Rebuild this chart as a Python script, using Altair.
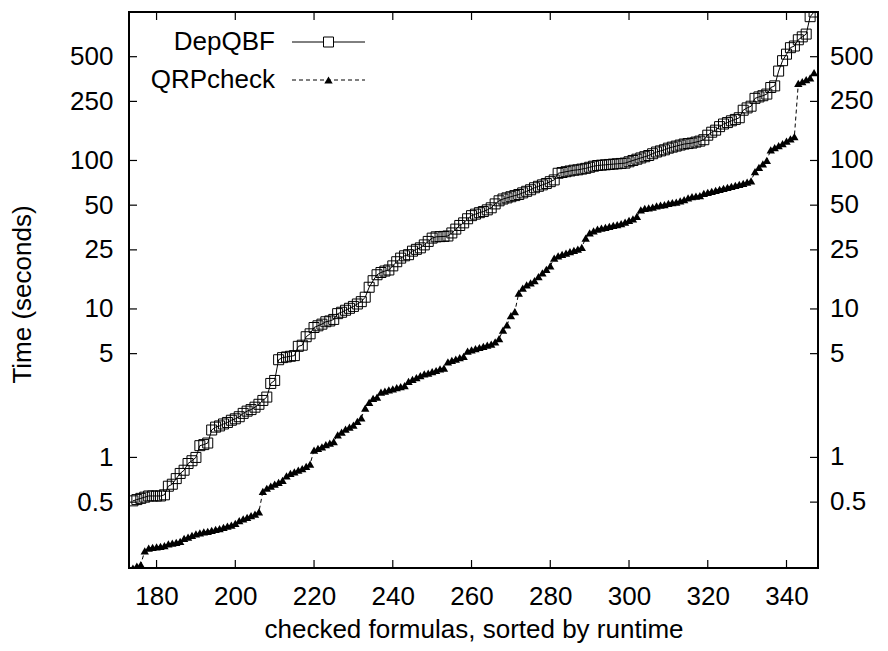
import altair as alt
import pandas as pd

# ---------------- data ----------------
formulas = list(range(174, 348))

depqbf = [
    0.51, 0.52, 0.53, 0.54, 0.55, 0.55, 0.55, 0.55, 0.56, 0.64,
    0.66, 0.72, 0.78, 0.82, 0.91, 0.95, 1.0, 1.2, 1.22, 1.25,
    1.53, 1.6, 1.63, 1.68, 1.72, 1.78, 1.82, 1.88, 1.98, 2.05,
    2.1, 2.18, 2.28, 2.42, 2.55, 3.15, 3.3, 4.55, 4.7, 4.75,
    4.8, 4.85, 5.6, 5.7, 6.5, 6.8, 7.5, 7.7, 7.9, 8.2,
    8.3, 8.5, 9.3, 9.5, 9.8, 10.1, 10.4, 10.8, 11.2, 12.0,
    14.0, 15.5, 17.0, 17.6, 18.0, 18.3, 19.5, 20.8, 22.0, 22.8,
    23.2, 24.5, 25.2, 25.8, 27.0, 28.5, 30.0, 30.6, 30.7, 30.8,
    31.0, 32.5, 34.5, 36.5, 38.0, 40.5, 42.5, 43.5, 44.5, 45.3,
    46.5, 48.0, 51.0, 53.5, 55.0, 56.0, 57.0, 58.0, 59.0, 60.5,
    62.0, 63.5, 65.5, 67.0, 68.5, 70.0, 72.0, 74.0, 82.0, 83.0,
    84.0, 85.0, 86.0, 86.5, 87.5, 88.5, 90.0, 91.5, 92.5, 93.0,
    93.5, 94.0, 94.5, 95.0, 95.5, 96.0, 98.0, 100.0, 102.0, 104.0,
    106.0, 108.0, 111.0, 114.0, 116.0, 118.0, 121.0, 123.0, 125.0, 127.0,
    129.0, 130.0, 131.0, 133.0, 135.0, 138.0, 148.0, 155.0, 160.0, 169.0,
    176.0, 180.0, 185.0, 189.0, 194.0, 218.0, 226.0, 232.0, 262.0, 268.0,
    273.0, 280.0, 310.0, 318.0, 400.0, 470.0, 520.0, 575.0, 590.0, 650.0,
    680.0, 710.0, 930.0, 1000.0,
]

qrpcheck = [
    0.18, 0.185, 0.19, 0.235, 0.245, 0.248, 0.25, 0.252, 0.255, 0.262,
    0.265, 0.268, 0.272, 0.285, 0.29, 0.298, 0.305, 0.31, 0.315, 0.318,
    0.322, 0.328, 0.332, 0.338, 0.345, 0.35, 0.36, 0.375, 0.385, 0.395,
    0.405, 0.415, 0.43, 0.59, 0.62, 0.64, 0.66, 0.68, 0.70, 0.75,
    0.78, 0.8, 0.82, 0.84, 0.87, 0.9, 1.12, 1.15, 1.18, 1.22,
    1.25, 1.28, 1.42, 1.48, 1.55, 1.6, 1.65, 1.75, 1.85, 2.15,
    2.35, 2.5, 2.55, 2.75, 2.8, 2.85, 2.9, 2.95, 3.0, 3.05,
    3.25, 3.35, 3.45, 3.55, 3.65, 3.7, 3.78, 3.85, 3.95, 4.0,
    4.4, 4.5, 4.6, 4.7, 4.8, 5.2, 5.3, 5.4, 5.5, 5.6,
    5.7, 5.8, 6.0, 6.3, 7.2, 7.8, 9.0, 9.6, 12.8, 13.8,
    14.5, 15.0, 15.5, 16.5, 17.5, 18.5, 19.5, 22.0, 22.8, 23.3,
    23.8, 24.3, 24.8, 25.3, 26.0, 30.0, 32.5, 33.5, 34.5, 35.0,
    35.5, 36.0, 36.5, 37.0, 37.5, 38.5, 39.5, 40.5, 42.0, 46.5,
    47.5, 48.0, 48.5, 49.5, 50.0, 50.5, 51.5, 52.0, 52.5, 53.5,
    54.5, 56.0, 57.0, 57.5, 58.0, 60.0, 61.0, 62.0, 63.0, 64.0,
    65.0, 66.0, 67.0, 68.0, 69.0, 70.0, 71.5, 73.0, 84.0, 90.0,
    95.0, 100.0, 118.0, 122.0, 126.0, 130.0, 135.0, 140.0, 145.0, 330.0,
    340.0, 350.0, 360.0, 390.0,
]

series_names = ["DepQBF", "QRPcheck"]
x_ticks = [180, 200, 220, 240, 260, 280, 300, 320, 340]
y_ticks = [0.5, 1, 5, 10, 25, 50, 100, 250, 500]
y_tick_labels = ["0.5", "1", "5", "10", "25", "50", "100", "250", "500"]

assert len(depqbf) == len(formulas) and len(qrpcheck) == len(formulas)

# ---------------- layout / style ----------------
W, H = 689, 556
FONT = "Liberation Sans"
FS = 26
TICK = 8

df_dep = pd.DataFrame({"x": formulas, "t": depqbf})
df_qrp = pd.DataFrame({"x": formulas, "t": qrpcheck})
df_xt = pd.DataFrame({"x": x_ticks})
df_yt = pd.DataFrame({"t": y_ticks, "label": y_tick_labels})

xscale = alt.Scale(domain=[173, 348], nice=False, zero=False)
yscale = alt.Scale(type="log", domain=[0.18, 1000], nice=False)

xaxis = alt.Axis(
    values=x_ticks, ticks=False, domain=False, grid=False,
    labelFont=FONT, labelFontSize=FS, labelColor="black", labelPadding=15,
    title="checked formulas, sorted by runtime", titleFont=FONT,
    titleFontSize=FS, titleFontWeight="normal", titleColor="black",
    titleY=69, titleBaseline="alphabetic",
)
yaxis = alt.Axis(
    values=y_ticks, format="~g", ticks=False, domain=False, grid=False,
    labelFont=FONT, labelFontSize=FS, labelColor="black", labelPadding=16,
    title="Time (seconds)", titleFont=FONT, titleFontSize=FS,
    titleFontWeight="normal", titleColor="black", titleX=-99, titleY=282,
    titleAngle=270, titleBaseline="alphabetic", titleAlign="center",
)

# same scale + axis definition in every layer so the shared axes survive merging
X = alt.X("x:Q", scale=xscale, axis=xaxis)
Y = alt.Y("t:Q", scale=yscale, axis=yaxis)

dep_line = alt.Chart(df_dep).mark_line(color="black", strokeWidth=1, clip=True).encode(x=X, y=Y)
dep_pts = alt.Chart(df_dep).mark_point(
    shape="square", size=100, filled=False, color="black", strokeWidth=1, opacity=1, clip=True
).encode(x=X, y=Y)

qrp_line = alt.Chart(df_qrp).mark_line(
    color="black", strokeWidth=1, strokeDash=[4, 3], clip=True
).encode(x=X, y=Y)
qrp_pts = alt.Chart(df_qrp).mark_point(
    shape="triangle-up", size=70, filled=True, color="black", opacity=1, clip=True
).encode(x=X, y=Y)

# inward ticks (gnuplot style) on all four sides
tick_style = dict(color="black", strokeWidth=1.2)
t_bottom = alt.Chart(df_xt).mark_rule(**tick_style).encode(
    x=X, y=alt.value(H - TICK), y2=alt.value(H))
t_top = alt.Chart(df_xt).mark_rule(**tick_style).encode(
    x=X, y=alt.value(0), y2=alt.value(TICK))
t_left = alt.Chart(df_yt).mark_rule(**tick_style).encode(
    y=Y, x=alt.value(0), x2=alt.value(TICK))
t_right = alt.Chart(df_yt).mark_rule(**tick_style).encode(
    y=Y, x=alt.value(W - TICK), x2=alt.value(W))

right_labels = alt.Chart(df_yt).mark_text(
    font=FONT, fontSize=FS, align="left", baseline="middle", color="black"
).encode(y=Y, x=alt.value(W + 12), text="label:N")

# legend (gnuplot style: label, then line sample with marker)
LX_TEXT, LX0, LX1, LXM = 146, 163, 236, 199.5
LY1, LY2 = 30, 68
leg_df1 = pd.DataFrame({"name": [series_names[0]]})
leg_df2 = pd.DataFrame({"name": [series_names[1]]})

leg_t1 = alt.Chart(leg_df1).mark_text(
    font=FONT, fontSize=FS, align="right", baseline="middle", color="black"
).encode(text="name:N", x=alt.value(LX_TEXT), y=alt.value(LY1))
leg_l1 = alt.Chart(leg_df1).mark_rule(color="black", strokeWidth=1).encode(
    x=alt.value(LX0), x2=alt.value(LX1), y=alt.value(LY1))
leg_p1 = alt.Chart(leg_df1).mark_point(
    shape="square", size=100, filled=True, fill="white", stroke="black", strokeWidth=1, opacity=1
).encode(x=alt.value(LXM), y=alt.value(LY1))

leg_t2 = alt.Chart(leg_df2).mark_text(
    font=FONT, fontSize=FS, align="right", baseline="middle", color="black"
).encode(text="name:N", x=alt.value(LX_TEXT), y=alt.value(LY2))
leg_l2 = alt.Chart(leg_df2).mark_rule(color="black", strokeWidth=1, strokeDash=[4, 3]).encode(
    x=alt.value(LX0), x2=alt.value(LX1), y=alt.value(LY2))
leg_p2 = alt.Chart(leg_df2).mark_point(
    shape="triangle-up", size=70, filled=True, color="black", opacity=1
).encode(x=alt.value(LXM), y=alt.value(LY2))

chart = alt.layer(
    dep_line, qrp_line, dep_pts, qrp_pts,
    t_bottom, t_top, t_left, t_right, right_labels,
    leg_l1, leg_p1, leg_t1, leg_l2, leg_p2, leg_t2,
).properties(
    width=W, height=H,
    autosize=alt.AutoSizeParams(type="none"),
    padding={"left": 121, "top": 4, "right": 62, "bottom": 75},
    background="white",
).configure_view(
    stroke="black", strokeWidth=2, fill="white"
)

chart.save("out.html", embed_options={"renderer": "svg", "actions": False})
